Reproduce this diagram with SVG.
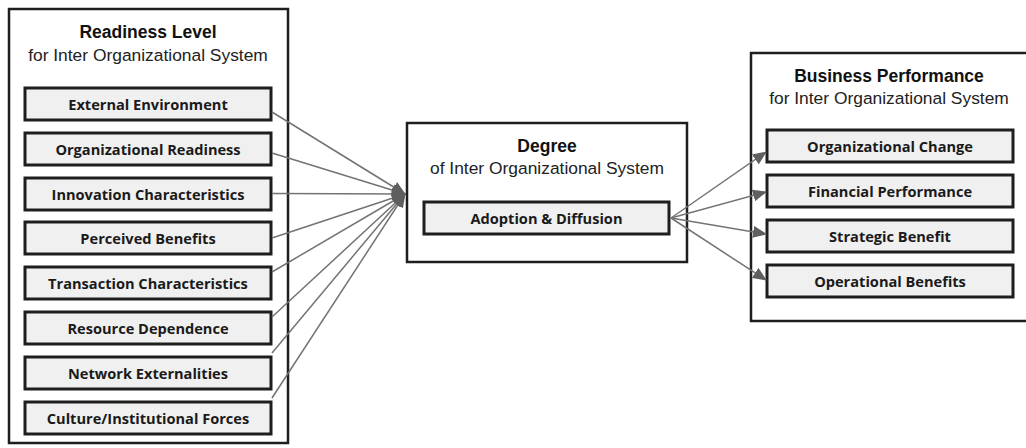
<svg xmlns="http://www.w3.org/2000/svg" width="1026" height="448" viewBox="0 0 1026 448">
  <style>
    .outer { fill: #ffffff; stroke: #1e1e1e; stroke-width: 2.5; }
    .inner { fill: #f0f0f0; stroke: #1e1e1e; stroke-width: 3; }
    .title { font-family: "Liberation Sans", Arial, sans-serif; font-size: 17.5px; font-weight: bold; fill: #111; text-anchor: middle; }
    .sub { font-family: "Liberation Sans", Arial, sans-serif; font-size: 17.4px; fill: #222; text-anchor: middle; }
    .label { font-family: "Open Sans", "Noto Sans", sans-serif; font-size: 14.6px; font-weight: bold; fill: #1a1a1a; text-anchor: middle; }
    .conn { stroke: #737373; stroke-width: 1.5; fill: none; marker-end: url(#arrow); }
  </style>
  <defs>
    <marker id="arrow" markerUnits="userSpaceOnUse" markerWidth="14" markerHeight="12" viewBox="0 0 14 12" refX="13" refY="6" orient="auto">
      <path d="M0,0 L14,6 L0,12 z" fill="#5f5f5f"/>
    </marker>
  </defs>

  <g id="readiness">
    <rect class="outer" x="9" y="9" width="279" height="434"/>
    <text class="title" x="148" y="38">Readiness Level</text>
    <text class="sub" x="148" y="61">for Inter Organizational System</text>
  </g>
  <g id="external-environment">
    <rect class="inner" x="25" y="88" width="246" height="32"/>
    <text class="label" x="148" y="110">External Environment</text>
  </g>
  <g id="organizational-readiness">
    <rect class="inner" x="25" y="133" width="246" height="32"/>
    <text class="label" x="148" y="155">Organizational Readiness</text>
  </g>
  <g id="innovation-characteristics">
    <rect class="inner" x="25" y="178" width="246" height="32"/>
    <text class="label" x="148" y="200">Innovation Characteristics</text>
  </g>
  <g id="perceived-benefits">
    <rect class="inner" x="25" y="222" width="246" height="32"/>
    <text class="label" x="148" y="244">Perceived Benefits</text>
  </g>
  <g id="transaction-characteristics">
    <rect class="inner" x="25" y="267" width="246" height="32"/>
    <text class="label" x="148" y="289">Transaction Characteristics</text>
  </g>
  <g id="resource-dependence">
    <rect class="inner" x="25" y="312" width="246" height="32"/>
    <text class="label" x="148" y="334">Resource Dependence</text>
  </g>
  <g id="network-externalities">
    <rect class="inner" x="25" y="357" width="246" height="32"/>
    <text class="label" x="148" y="379">Network Externalities</text>
  </g>
  <g id="culture-institutional-forces">
    <rect class="inner" x="25" y="402" width="246" height="32"/>
    <text class="label" x="148" y="424">Culture/Institutional Forces</text>
  </g>

  <g id="degree">
    <rect class="outer" x="407" y="123" width="280" height="139"/>
    <text class="title" x="547" y="152">Degree</text>
    <text class="sub" x="547" y="174">of Inter Organizational System</text>
  </g>
  <g id="adoption-diffusion">
    <rect class="inner" x="424" y="202" width="245" height="32"/>
    <text class="label" x="546.5" y="224">Adoption &amp; Diffusion</text>
  </g>

  <g id="business-performance">
    <rect class="outer" x="751" y="53" width="280" height="268"/>
    <text class="title" x="889" y="82">Business Performance</text>
    <text class="sub" x="889" y="104">for Inter Organizational System</text>
  </g>
  <g id="organizational-change">
    <rect class="inner" x="767" y="130" width="246" height="32"/>
    <text class="label" x="890" y="152">Organizational Change</text>
  </g>
  <g id="financial-performance">
    <rect class="inner" x="767" y="175" width="246" height="32"/>
    <text class="label" x="890" y="197">Financial Performance</text>
  </g>
  <g id="strategic-benefit">
    <rect class="inner" x="767" y="220" width="246" height="32"/>
    <text class="label" x="890" y="242">Strategic Benefit</text>
  </g>
  <g id="operational-benefits">
    <rect class="inner" x="767" y="265" width="246" height="32"/>
    <text class="label" x="890" y="287">Operational Benefits</text>
  </g>

  <g id="connectors">
    <line class="conn" x1="272" y1="112" x2="405" y2="194"/>
    <line class="conn" x1="272" y1="153" x2="405" y2="194"/>
    <line class="conn" x1="272" y1="193.5" x2="405" y2="194"/>
    <line class="conn" x1="272" y1="238" x2="405" y2="194"/>
    <line class="conn" x1="272" y1="272" x2="405" y2="194"/>
    <line class="conn" x1="272" y1="317" x2="405" y2="194"/>
    <line class="conn" x1="272" y1="353" x2="405" y2="194"/>
    <line class="conn" x1="272" y1="398" x2="405" y2="194"/>
    <line class="conn" x1="671" y1="218" x2="766" y2="152"/>
    <line class="conn" x1="671" y1="218" x2="766" y2="192"/>
    <line class="conn" x1="671" y1="218" x2="766" y2="234"/>
    <line class="conn" x1="671" y1="218" x2="766" y2="280"/>
  </g>
</svg>
